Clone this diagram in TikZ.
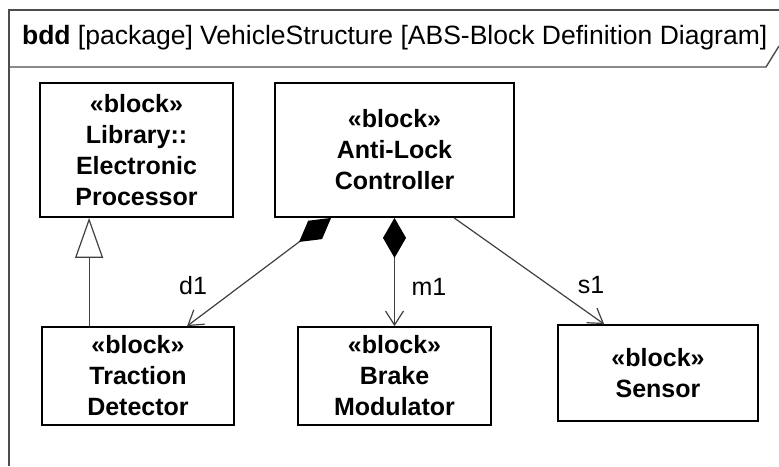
\documentclass[tikz,border=0pt]{standalone}
\usepackage{fontspec}
\setmainfont{Liberation Sans}
\usepackage{tikz}
\usetikzlibrary{calc, arrows, shapes}
\usetikzlibrary{arrows.meta}
\tikzset{>=latex}
\tikzset{
blk/.style={draw, line width=0.9pt, align=center, inner sep=0pt,
  font=\fontsize{12.5}{15.5}\selectfont\bfseries},
assoc/.style={draw=black!75, line width=0.6pt},
comp/.style={assoc, {Diamond[length=20pt,width=11.5pt,color=black,fill=black]}-{Straight Barb[length=7pt,width=9pt]}},
gen/.style={assoc, -{Triangle[open,length=20pt,width=14pt,fill=white]}},
rolename/.style={font=\fontsize{12.5}{15}\selectfont}
}

\begin{document}
\begin{tikzpicture}[x=0.5pt, y=-0.5pt]
\useasboundingbox (0,0) rectangle (779,466);
\draw[black!70, line width=0.7pt] (9,466) -- (9,10) -- (779,10);
\draw[black!70, line width=0.7pt] (9,67) -- (766,67) -- (779,46);
\node[anchor=west, font=\fontsize{13.25}{16}\selectfont] (title) at (15,38)
{\textbf{bdd} [package] VehicleStructure [ABS-Block Definition Diagram]};

\node[blk, minimum width=96.5pt, minimum height=67pt] (proc) at (136.5,150)
{«block»\\Library::\\Electronic\\Processor};
\node[blk, minimum width=119.5pt, minimum height=67pt] (ctrl) at (394.5,150)
{«block»\\Anti-Lock\\Controller};
\node[blk, minimum width=96pt, minimum height=49pt] (trac) at (138,376)
{«block»\\Traction\\Detector};
\node[blk, minimum width=96.5pt, minimum height=49pt] (brake) at (394.5,376)
{«block»\\Brake\\Modulator};
\node[blk, minimum width=100pt, minimum height=48pt] (sensor) at (658,373)
{«block»\\Sensor};

\draw[gen] ($(trac.north west)+(48,0)$) -- ($(proc.south west)+(50,0)$);
\draw[comp] ($(ctrl.south west)+(57,0)$) -- ($(trac.north west)+(146,0)$);
\draw[comp] (ctrl.south) -- (brake.north);
\draw[assoc, -{Straight Barb[length=7pt,width=9pt]}]
($(ctrl.south west)+(180,0)$) -- ($(sensor.north west)+(47,0)$);

\node[rolename] (d1) at (193,286) {d1};
\node[rolename] (m1) at (429,287) {m1};
\node[rolename] (s1) at (591,285) {s1};
\end{tikzpicture}
\end{document}
